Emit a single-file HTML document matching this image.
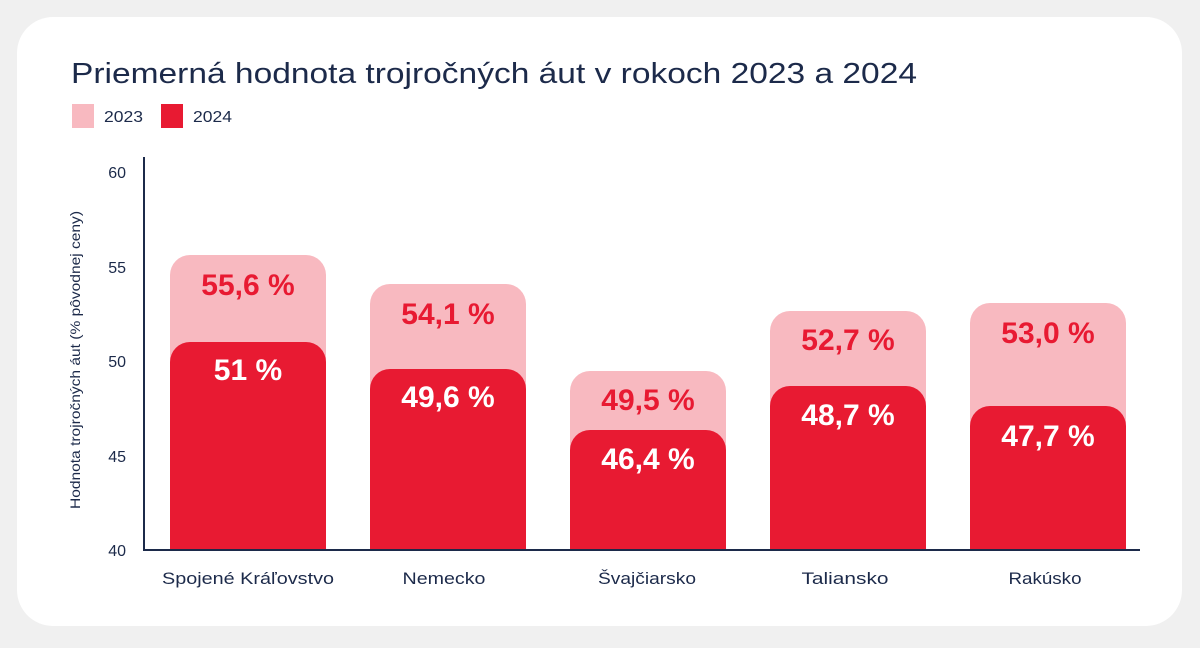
<!DOCTYPE html>
<html><head><meta charset="utf-8"><style>
body{margin:0;width:1200px;height:643px;background:#f0f0f0;font-family:"Liberation Sans",sans-serif;overflow:hidden}
</style></head><body>
<svg width="1200" height="643" xmlns="http://www.w3.org/2000/svg" font-family="Liberation Sans, sans-serif">
<rect x="17" y="17" width="1165" height="609" rx="36" fill="#fff"/>
<text x="71" y="83" font-size="29" fill="#1c2a4a" textLength="846" lengthAdjust="spacingAndGlyphs">Priemerná hodnota trojročných áut v rokoch 2023 a 2024</text>
<rect x="72" y="104" width="22" height="24" fill="#f8b9c0"/>
<text x="104" y="122" font-size="16" fill="#1c2a4a" textLength="39" lengthAdjust="spacingAndGlyphs">2023</text>
<rect x="161" y="104" width="22" height="24" fill="#e81a32"/>
<text x="193" y="122" font-size="16" fill="#1c2a4a" textLength="39" lengthAdjust="spacingAndGlyphs">2024</text>
<g font-size="16" fill="#1c2a4a" text-anchor="end">
<text x="126" y="178">60</text><text x="126" y="273">55</text><text x="126" y="367">50</text><text x="126" y="462">45</text><text x="126" y="556">40</text>
</g>
<text transform="translate(80,360) rotate(-90)" font-size="14" fill="#1c2a4a" text-anchor="middle" textLength="298" lengthAdjust="spacingAndGlyphs">Hodnota trojročných áut (% pôvodnej ceny)</text>
<g>
<path d="M170,550 V275 a20,20 0 0 1 20,-20 H306 a20,20 0 0 1 20,20 V550Z" fill="#f8b9c0"/>
<path d="M170,550 V362 a20,20 0 0 1 20,-20 H306 a20,20 0 0 1 20,20 V550Z" fill="#e81a32"/>
<path d="M370,550 V304 a20,20 0 0 1 20,-20 H506 a20,20 0 0 1 20,20 V550Z" fill="#f8b9c0"/>
<path d="M370,550 V389 a20,20 0 0 1 20,-20 H506 a20,20 0 0 1 20,20 V550Z" fill="#e81a32"/>
<path d="M570,550 V391 a20,20 0 0 1 20,-20 H706 a20,20 0 0 1 20,20 V550Z" fill="#f8b9c0"/>
<path d="M570,550 V450 a20,20 0 0 1 20,-20 H706 a20,20 0 0 1 20,20 V550Z" fill="#e81a32"/>
<path d="M770,550 V331 a20,20 0 0 1 20,-20 H906 a20,20 0 0 1 20,20 V550Z" fill="#f8b9c0"/>
<path d="M770,550 V406 a20,20 0 0 1 20,-20 H906 a20,20 0 0 1 20,20 V550Z" fill="#e81a32"/>
<path d="M970,550 V323 a20,20 0 0 1 20,-20 H1106 a20,20 0 0 1 20,20 V550Z" fill="#f8b9c0"/>
<path d="M970,550 V426 a20,20 0 0 1 20,-20 H1106 a20,20 0 0 1 20,20 V550Z" fill="#e81a32"/>
</g>
<g font-size="30" font-weight="bold" text-anchor="middle">
<g fill="#e81a32">
<text x="248" y="295">55,6 %</text><text x="448" y="324">54,1 %</text><text x="648" y="410">49,5 %</text><text x="848" y="350">52,7 %</text><text x="1048" y="343">53,0 %</text>
</g>
<g fill="#fff">
<text x="248" y="380">51 %</text><text x="448" y="407">49,6 %</text><text x="648" y="469">46,4 %</text><text x="848" y="425">48,7 %</text><text x="1048" y="446">47,7 %</text>
</g>
</g>
<line x1="144" y1="157" x2="144" y2="551" stroke="#1c2a4a" stroke-width="2"/>
<line x1="143" y1="550" x2="1140" y2="550" stroke="#1c2a4a" stroke-width="2"/>
<g font-size="17" fill="#1c2a4a" text-anchor="middle">
<text x="248" y="584" textLength="172" lengthAdjust="spacingAndGlyphs">Spojené Kráľovstvo</text>
<text x="444" y="584" textLength="83" lengthAdjust="spacingAndGlyphs">Nemecko</text>
<text x="647" y="584" textLength="98" lengthAdjust="spacingAndGlyphs">Švajčiarsko</text>
<text x="845" y="584" textLength="87" lengthAdjust="spacingAndGlyphs">Taliansko</text>
<text x="1045" y="584" textLength="73" lengthAdjust="spacingAndGlyphs">Rakúsko</text>
</g>
</svg>
</body></html>
